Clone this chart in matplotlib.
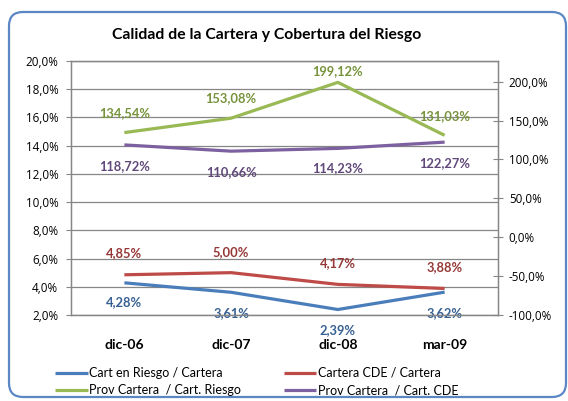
import matplotlib
matplotlib.use("Agg")
import matplotlib.pyplot as plt
from matplotlib.patches import FancyBboxPatch
from matplotlib.transforms import IdentityTransform
from matplotlib.ticker import FuncFormatter, MultipleLocator

plt.rcParams['font.family'] = ['Lato', 'DejaVu Sans']

categories = ["dic-06", "dic-07", "dic-08", "mar-09"]
cart_riesgo = [4.28, 3.61, 2.39, 3.62]
cartera_cde = [4.85, 5.00, 4.17, 3.88]
prov_riesgo = [134.54, 153.08, 199.12, 131.03]
prov_cde = [118.72, 110.66, 114.23, 122.27]

title = "Calidad de la Cartera y Cobertura del Riesgo"
names = ["Cart en Riesgo / Cartera", "Cartera CDE / Cartera",
         "Prov Cartera  / Cart. Riesgo", "Prov Cartera  / Cart. CDE"]

c_blue, c_red, c_green, c_purple = "#4A7EBB", "#BE4B48", "#98B954", "#7D60A0"
t_blue, t_red, t_green, t_purple = "#376092", "#953735", "#77933C", "#60497A"

W, H = 568, 401
fig = plt.figure(figsize=(W / 100, H / 100), dpi=100)

def fx(px):
    return px / W

def fy(py):
    return 1 - py / H

# outer rounded border (pixel coordinates, origin bottom-left)
border = FancyBboxPatch((9, H - 397), 566 - 9, 397 - 12,
                        boxstyle="round,pad=0,rounding_size=14",
                        transform=IdentityTransform(), fill=False,
                        edgecolor="#5B87C5", linewidth=1.6, clip_on=False)
fig.patches.append(border)

ax = fig.add_axes([fx(71), fy(315), fx(498) - fx(71), fy(61) - fy(315)])
ax2 = ax.twinx()

x = list(range(len(categories)))
ax.plot(x, cart_riesgo, color=c_blue, lw=2.3, solid_capstyle='butt', label=names[0])
ax.plot(x, cartera_cde, color=c_red, lw=2.3, solid_capstyle='butt', label=names[1])
ax2.plot(x, prov_riesgo, color=c_green, lw=2.3, solid_capstyle='butt', label=names[2])
ax2.plot(x, prov_cde, color=c_purple, lw=2.3, solid_capstyle='butt', label=names[3])

ax.set_xlim(-0.5, 3.5)
ax.set_ylim(2, 20)
ax2.set_ylim(-100, 226.6)
ax.yaxis.set_major_locator(MultipleLocator(2))
ax2.yaxis.set_major_locator(MultipleLocator(50))
fmt = FuncFormatter(lambda v, p: f"{v:.1f}%".replace(".", ","))
ax.yaxis.set_major_formatter(fmt)
ax2.yaxis.set_major_formatter(fmt)
ax.set_xticks(x)
ax.set_xticklabels(categories, fontweight='bold', fontsize=10)
ax.tick_params(axis='x', length=0, pad=17)
ax.tick_params(axis='y', length=3.6, color="#868686", pad=5.5)
ax2.tick_params(axis='y', length=7.5, direction='inout', color="#868686", pad=4)
for t in ax.get_yticklabels() + ax2.get_yticklabels():
    t.set_fontfamily(['Open Sans', 'DejaVu Sans'])
    t.set_fontsize(8.4)
ax.grid(axis='y', color="#868686", lw=0.9)
for a in (ax, ax2):
    for s in a.spines.values():
        s.set_color("#868686")
        s.set_linewidth(0.9)

def lab(axis, vals, color, offs):
    for i, v in enumerate(vals):
        axis.annotate(f"{v:.2f}%".replace(".", ","), (i, v), xytext=(0, -offs[i]),
                      textcoords='offset pixels', ha='center', va='center',
                      color=color, fontsize=9.3, fontweight='bold')

lab(ax, cart_riesgo, t_blue, [19, 21, 20.5, 21])
lab(ax, cartera_cde, t_red, [-21.5, -21, -21.5, -21])
lab(ax2, prov_riesgo, t_green, [-20, -20.5, -11, -19.5])
lab(ax2, prov_cde, t_purple, [21, 20.5, 20, 20.5])

fig.text(fx(267), fy(35), title, ha='center', va='center', fontsize=11.3, fontweight='bold')

h1, l1 = ax.get_legend_handles_labels()
h2, l2 = ax2.get_legend_handles_labels()
handles = [h1[0], h2[0], h1[1], h2[1]]
labels = [l1[0], l2[0], l1[1], l2[1]]
fig.legend(handles, labels, ncol=2, loc='center left', bbox_to_anchor=(fx(55), fy(381.5)),
           frameon=False, fontsize=9.0, handlelength=2.6, handletextpad=0.15,
           columnspacing=3.4, labelspacing=0.42, borderpad=0, borderaxespad=0)

fig.savefig("out.png", dpi=100)
